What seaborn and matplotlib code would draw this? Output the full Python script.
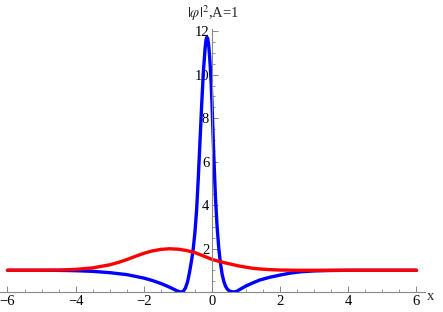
import matplotlib
matplotlib.use("Agg")
import matplotlib.pyplot as plt
import seaborn as sns

# values
blue_x = [-6.0, -5.0, -4.5, -4.0, -3.5, -3.0, -2.5, -2.0, -1.75, -1.5, -1.3, -1.15,
          -1.05, -0.97, -0.9, -0.84, -0.78, -0.72, -0.66, -0.6, -0.55, -0.5, -0.45,
          -0.4, -0.35, -0.3, -0.25, -0.2, -0.175, -0.15, -0.125, -0.1, -0.075, -0.05,
          -0.025, 0.0, 0.05, 0.1, 0.15, 0.2, 0.25, 0.3, 0.35, 0.4, 0.45, 0.52, 0.63,
          0.72, 0.82, 0.92, 1.0, 1.2, 1.4, 1.7, 2.0, 2.3, 2.6, 3.0, 3.5, 4.0, 6.0]
blue_y = [1.0, 1.0, 0.995, 0.98, 0.95, 0.89, 0.80, 0.64, 0.53, 0.39, 0.26, 0.15,
          0.07, 0.02, 0.0, 0.04, 0.18, 0.45, 0.9, 1.45, 2.0, 2.75, 3.8,
          5.3, 7.0, 8.7, 10.2, 11.25, 11.6, 11.72, 11.65, 11.4, 10.95, 10.35,
          9.6, 8.7, 6.4, 4.4, 3.0, 2.0, 1.3, 0.8, 0.47, 0.26, 0.13, 0.04, 0.0,
          0.03, 0.12, 0.21, 0.28, 0.42, 0.55, 0.68, 0.78, 0.87, 0.93, 0.97, 0.99, 1.0, 1.0]

red_x = [-6.0, -5.0, -4.5, -4.0, -3.5, -3.0, -2.75, -2.5, -2.25, -2.0, -1.75, -1.5,
         -1.25, -1.0, -0.75, -0.5, -0.25, 0.0, 0.25, 0.5, 0.75, 1.0, 1.2, 1.4,
         1.7, 2.0, 2.5, 6.0]
red_y = [1.0, 1.0, 1.01, 1.04, 1.11, 1.25, 1.36, 1.49, 1.64, 1.78, 1.89, 1.96,
         1.99, 1.97, 1.91, 1.81, 1.66, 1.50, 1.39, 1.30, 1.21, 1.14, 1.09, 1.06,
         1.03, 1.01, 1.0, 1.0]

x_ticks = [-6, -4, -2, 0, 2, 4, 6]
y_ticks = [2, 4, 6, 8, 10, 12]

sns.set_theme(style="white")
plt.rcParams['font.family'] = ['Liberation Serif', 'DejaVu Serif']
plt.rcParams['mathtext.fontset'] = 'stix'

fig = plt.figure(figsize=(4.43, 3.12), dpi=100)
ax = fig.add_axes([0.0, 20 / 312, 425 / 443, (292 - 29) / 312])

sns.lineplot(x=blue_x, y=blue_y, sort=False, estimator=None, color=(0, 0, 1), lw=2.4, ax=ax)
sns.lineplot(x=red_x, y=red_y, sort=False, estimator=None, color=(1, 0, 0), lw=2.4, ax=ax)

ax.set_xlim(-6.22, 6.25)
ax.set_ylim(0, 12.1)
ax.spines['top'].set_visible(False)
ax.spines['right'].set_visible(False)
ax.spines['left'].set_position(('data', 0))
ax.spines['bottom'].set_position(('data', 0))
for s in ['left', 'bottom']:
    ax.spines[s].set_color('#888888')
    ax.spines[s].set_linewidth(0.8)

ax.set_xticks(x_ticks)
ax.set_yticks(y_ticks)
ax.set_xticks([v / 2 for v in range(-12, 13) if v % 4 != 0], minor=True)
ax.set_yticks([v / 2 for v in range(1, 25) if v % 4 != 0], minor=True)
ax.tick_params(axis='both', which='major', direction='in', length=4, width=0.7,
               color='#888888', labelsize=10.5, pad=2)
ax.tick_params(axis='both', which='minor', direction='in', length=2.2, width=0.6,
               color='#888888')
ax.tick_params(axis='x', which='both', bottom=True)
ax.tick_params(axis='y', which='both', left=True)
ax.set_xticklabels(['\u22126', '\u22124', '\u22122', '0', '2', '4', '6'])
for lab in ax.get_xticklabels() + ax.get_yticklabels():
    lab.set_color('black')

ax.set_xlabel('')
ax.set_ylabel('')
ax.grid(False)

fig.text(431 / 443, 1 - 296 / 312, 'x', ha='center', va='center', fontsize=10.5)
fig.text(213 / 443, 1 - 13 / 312, r'$|\varphi|^2$,A=1', ha='center', va='center', fontsize=10.5)

fig.savefig('out.png', dpi=100)
